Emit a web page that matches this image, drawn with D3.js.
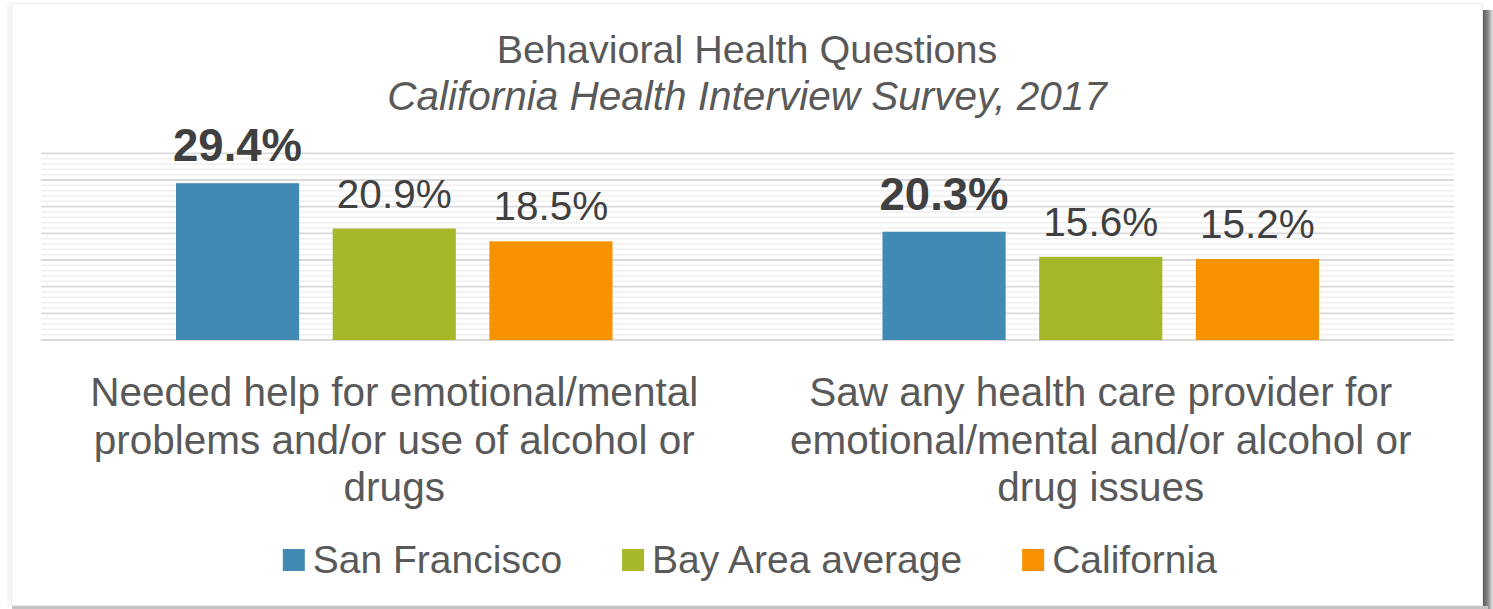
<!DOCTYPE html>
<html>
<head>
<meta charset="utf-8">
<script src="https://cdn.jsdelivr.net/npm/d3@7"></script>
<style>
  body { margin: 0; background: #fff; }
  svg text { font-family: "Liberation Sans", Arial, sans-serif; }
</style>
</head>
<body>
<script>
(function(){

	//chart data
	var categories = [
		["Needed help for emotional/mental", "problems and/or use of alcohol or", "drugs"],
		["Saw any health care provider for", "emotional/mental and/or alcohol or", "drug issues"]
	];
	var seriesNames = ["San Francisco", "Bay Area average", "California"];
	var seriesColors = ["#418AB3", "#A6B727", "#F69200"];
	var sfValues = [29.4, 20.3];
	var bayValues = [20.9, 15.6];
	var caValues = [18.5, 15.2];
	var yTicks = [0, 5, 10, 15, 20, 25, 30, 35];

	var width = 1493,
		height = 609;

	var svg = d3.select("body")
		.append("svg")
		.attr("width", width)
		.attr("height", height);

	//card frame with shadow
	var defs = svg.append("defs");
	var grad = defs.append("linearGradient")
		.attr("id", "rshadow")
		.attr("x1", "0").attr("x2", "1").attr("y1", "0").attr("y2", "0");
	grad.append("stop").attr("offset", "0").attr("stop-color", "#5a5a5a");
	grad.append("stop").attr("offset", "0.5").attr("stop-color", "#8a8a8a");
	grad.append("stop").attr("offset", "1").attr("stop-color", "#e6e6e6");

	svg.append("rect")
		.attr("x", 1483).attr("y", 10)
		.attr("width", 10).attr("height", 599)
		.attr("fill", "url(#rshadow)");
	svg.append("rect")
		.attr("x", 12).attr("y", 606)
		.attr("width", 1476).attr("height", 3)
		.attr("fill", "#c4c4c4");
	svg.append("rect")
		.attr("x", 7).attr("y", 3)
		.attr("width", 6).attr("height", 603)
		.attr("fill", "#f7f7f7");
	svg.append("rect")
		.attr("x", 11.5).attr("y", 3.5)
		.attr("width", 1471).attr("height", 602)
		.attr("fill", "#fff")
		.attr("stroke", "#ececec")
		.attr("stroke-width", 1);

	//title
	svg.append("text")
		.attr("x", 747).attr("y", 63)
		.attr("text-anchor", "middle")
		.attr("fill", "#595959")
		.style("font-size", "39.5px")
		.text("Behavioral Health Questions");

	svg.append("text")
		.attr("x", 747).attr("y", 110)
		.attr("text-anchor", "middle")
		.attr("fill", "#595959")
		.style("font-size", "40.5px")
		.style("font-style", "italic")
		.text("California Health Interview Survey, 2017");

	//scales
	var plotLeft = 41, plotRight = 1454;

	var y = d3.scaleLinear()
		.domain([0, 35])
		.range([340, 153.33]);

	var x0 = d3.scaleBand()
		.domain(d3.range(categories.length))
		.range([plotLeft, plotRight]);

	var x1 = d3.scaleBand()
		.domain(d3.range(seriesNames.length))
		.range([135, x0.bandwidth() - 135])
		.paddingInner(0.214);

	//gridlines: minor every 1, major every 5
	var grid = svg.append("g").attr("class", "grid");
	grid.selectAll(".minor")
		.data(d3.range(0, 36).filter(function(d){ return d % 5 != 0; }))
		.enter()
		.append("line")
		.attr("x1", plotLeft).attr("x2", plotRight)
		.attr("y1", function(d){ return y(d); })
		.attr("y2", function(d){ return y(d); })
		.attr("stroke", "#f0f0f0")
		.attr("stroke-width", 1.5);
	grid.selectAll(".major")
		.data(yTicks)
		.enter()
		.append("line")
		.attr("x1", plotLeft).attr("x2", plotRight)
		.attr("y1", function(d){ return y(d); })
		.attr("y2", function(d){ return y(d); })
		.attr("stroke", "#d9d9d9")
		.attr("stroke-width", 1.8);

	//bars
	var rows = categories.map(function(c, i){
		return [sfValues[i], bayValues[i], caValues[i]];
	});

	var groups = svg.selectAll(".group")
		.data(rows)
		.enter()
		.append("g")
		.attr("transform", function(d, i){ return "translate(" + x0(i) + ",0)"; });

	groups.selectAll("rect")
		.data(function(d){ return d; })
		.enter()
		.append("rect")
		.attr("x", function(d, i){ return x1(i); })
		.attr("width", x1.bandwidth())
		.attr("y", function(d){ return y(d); })
		.attr("height", function(d){ return y(0) - y(d); })
		.attr("fill", function(d, i){ return seriesColors[i]; });

	//value labels
	groups.selectAll(".val")
		.data(function(d){ return d; })
		.enter()
		.append("text")
		.attr("class", "val")
		.attr("x", function(d, i){ return x1(i) + x1.bandwidth() / 2; })
		.attr("y", function(d, i){ return y(d) - (i == 0 ? 22 : 21); })
		.attr("text-anchor", "middle")
		.attr("fill", "#404040")
		.style("font-size", function(d, i){ return i == 0 ? "45.5px" : "40.5px"; })
		.style("font-weight", function(d, i){ return i == 0 ? "bold" : "normal"; })
		.text(function(d){ return d.toFixed(1) + "%"; });

	//category labels
	var catLabels = svg.selectAll(".cat")
		.data(categories)
		.enter()
		.append("text")
		.attr("class", "cat")
		.attr("text-anchor", "middle")
		.attr("fill", "#595959")
		.style("font-size", "40.5px")
		.attr("transform", function(d, i){
			return "translate(" + (x0(i) + x0.bandwidth() / 2) + ",406)";
		});
	catLabels.selectAll("tspan")
		.data(function(d){ return d; })
		.enter()
		.append("tspan")
		.attr("x", 0)
		.attr("y", function(d, i){ return i * 47.5; })
		.text(function(d){ return d; });

	//legend
	var legend = svg.append("g").attr("class", "legend");
	var items = legend.selectAll(".item")
		.data(seriesNames)
		.enter()
		.append("g")
		.attr("class", "item");
	items.append("rect")
		.attr("width", 22).attr("height", 22)
		.attr("y", 549)
		.attr("fill", function(d, i){ return seriesColors[i]; });
	items.append("text")
		.attr("x", 30)
		.attr("y", 573)
		.attr("fill", "#595959")
		.style("font-size", "39px")
		.text(function(d){ return d; });

	var offset = 0, widths = [];
	items.each(function(){
		var w = this.getBBox().width;
		widths.push(w);
	});
	var total = d3.sum(widths) + 60 * (widths.length - 1);
	var start = 750 - total / 2;
	items.attr("transform", function(d, i){
		var tx = start + offset;
		offset += widths[i] + 60;
		return "translate(" + tx + ",0)";
	});

})();
</script>
</body>
</html>
